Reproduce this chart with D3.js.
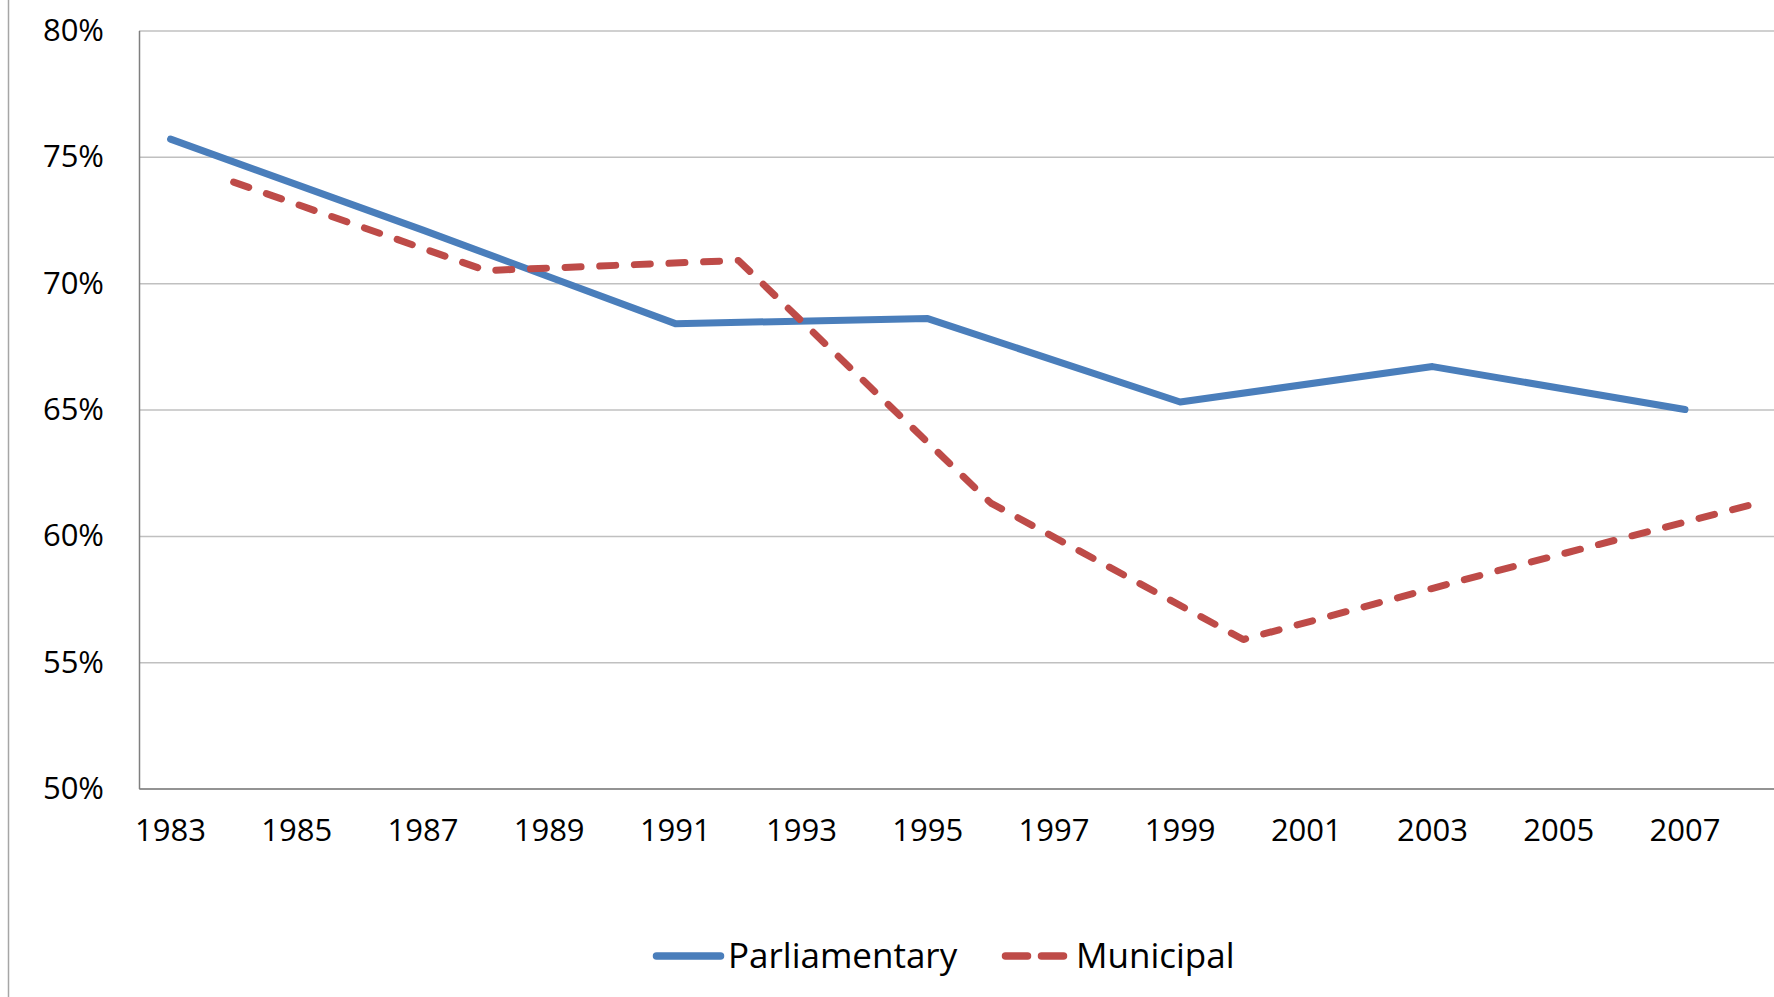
<!DOCTYPE html>
<html>
<head>
<meta charset="utf-8">
<script src="https://cdn.jsdelivr.net/npm/d3@7"></script>
<style>
  body { margin: 0; background: #fff; }
  svg { display: block; }
  text { font-family: 'Open Sans', sans-serif; fill: #000; }
</style>
</head>
<body>
<div class="board"></div>
<script>
// turnout data
var years = d3.range(1983, 2009);
var tickYears = [1983, 1985, 1987, 1989, 1991, 1993, 1995, 1997, 1999, 2001, 2003, 2005, 2007];
var yTicks = [0.50, 0.55, 0.60, 0.65, 0.70, 0.75, 0.80];

var parlYears = [1983, 1987, 1991, 1995, 1999, 2003, 2007];
var parlValues = [0.757, 0.721, 0.684, 0.686, 0.653, 0.667, 0.650];

var munYears = [1984, 1988, 1992, 1996, 2000, 2004, 2008];
var munValues = [0.740, 0.705, 0.709, 0.613, 0.559, 0.586, 0.612];

var width = 1774;
var height = 997;

// note: "top" is taken by window.top, so plotTop
var plotLeft = 139;
var plotTop = 30.5;
var plotBottom = 788.6;
var step = 63.1;

var svg = d3.select('.board').append('svg')
  .attr('width', width)
  .attr('height', height);

// thin border line on the far left
svg.append('line')
  .attr('x1', 8.5).attr('x2', 8.5)
  .attr('y1', 0).attr('y2', height)
  .attr('stroke', '#a6a6a6')
  .attr('stroke-width', 1.5);

var x = d3.scaleBand()
  .domain(years)
  .range([plotLeft, plotLeft + step * years.length]);

var y = d3.scaleLinear()
  .domain([0.5, 0.8])
  .range([plotBottom, plotTop]);

// gridlines
svg.append('g')
  .attr('transform', 'translate(' + plotLeft + ',0)')
  .call(d3.axisLeft(y).tickValues(yTicks).tickSize(-(width - plotLeft)).tickFormat(''))
  .call(function(g) {
    g.select('.domain').remove();
    g.selectAll('line').attr('stroke', '#c0c0c0').attr('stroke-width', 1.5);
  });

// y axis labels + line
svg.append('g')
  .attr('transform', 'translate(' + plotLeft + ',0)')
  .call(d3.axisLeft(y).tickValues(yTicks).tickSize(0).tickPadding(35).tickFormat(d3.format('.0%')))
  .call(function(g) {
    g.select('.domain').attr('stroke', '#7f7f7f').attr('stroke-width', 1.5);
    g.selectAll('text').style('font-size', '31px').attr('fill', '#000');
  });

// x axis
svg.append('g')
  .attr('transform', 'translate(0,' + plotBottom + ')')
  .call(d3.axisBottom(x).tickValues(tickYears).tickSize(0).tickPadding(30))
  .call(function(g) {
    g.select('.domain').attr('stroke', '#7f7f7f').attr('stroke-width', 1.5);
    g.selectAll('text').style('font-size', '31px').attr('fill', '#000');
  });

var line = d3.line()
  .x(function(d) { return x(d[0]) + x.bandwidth() / 2; })
  .y(function(d) { return y(d[1]); });

var parl = d3.zip(parlYears, parlValues);
var mun = d3.zip(munYears, munValues);

svg.append('path')
  .datum(parl)
  .attr('d', line)
  .attr('fill', 'none')
  .attr('stroke', '#4a7ebb')
  .attr('stroke-width', 7)
  .attr('stroke-linejoin', 'round')
  .attr('stroke-linecap', 'round');

var munPath = svg.append('path')
  .datum(mun)
  .attr('d', line)
  .attr('fill', 'none')
  .attr('stroke', '#be4b48')
  .attr('stroke-width', 7)
  .attr('stroke-linejoin', 'round')
  .attr('stroke-linecap', 'round');

// stretch the dash period a touch so the line ends on a dash, like the original
var dash = 16;
var len = munPath.node().getTotalLength();
var n = Math.round((len - dash) / 35);
var period = (len - dash) / n;
munPath.attr('stroke-dasharray', dash + ',' + (period - dash));

// legend
var legendY = 956;
var legend = [
  {name: 'Parliamentary', color: '#4a7ebb', dash: null, x1: 656.5, x2: 720.5, tx: 728},
  {name: 'Municipal', color: '#be4b48', dash: '22,14', x1: 1005.5, x2: 1063.5, tx: 1076}
];

var items = svg.selectAll('.legend')
  .data(legend)
  .enter().append('g')
  .attr('class', 'legend');

items.append('line')
  .attr('x1', function(d) { return d.x1; })
  .attr('x2', function(d) { return d.x2; })
  .attr('y1', legendY).attr('y2', legendY)
  .attr('stroke', function(d) { return d.color; })
  .attr('stroke-width', 7.5)
  .attr('stroke-linecap', 'round')
  .attr('stroke-dasharray', function(d) { return d.dash; });

items.append('text')
  .attr('x', function(d) { return d.tx; })
  .attr('y', legendY)
  .attr('dy', '0.35em')
  .style('font-size', '35px')
  .text(function(d) { return d.name; });
</script>
</body>
</html>
